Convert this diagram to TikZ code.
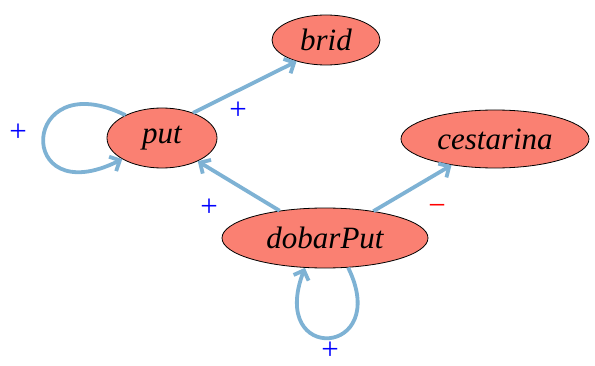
\documentclass[tikz,border=0pt]{standalone}
\usepackage{fontspec}
\setmainfont{Liberation Serif}
\usetikzlibrary{shapes.geometric,arrows.meta}
\definecolor{salmonc}{RGB}{250,128,114}
\definecolor{edgec}{RGB}{126,178,212}
\begin{document}
\begin{tikzpicture}[x=1pt,y=1pt,
  state/.style={ellipse,draw=black,line width=0.8pt,fill=salmonc,inner sep=0pt,
    font=\fontsize{31}{36}\selectfont\itshape},
  edge/.style={draw=edgec,line width=3.8pt,-{Straight Barb[length=8pt,width=16pt]}},
  lbl/.style={font=\fontsize{31}{36}\selectfont,inner sep=0pt}]
\useasboundingbox (0,0) rectangle (595,365);
\node[state,minimum width=108pt,minimum height=50pt] (brid) at (326,325) {brid};
\node[state,minimum width=110pt,minimum height=60pt] (put) at (162,227) {put};
\node[state,minimum width=188pt,minimum height=58pt] (ces) at (495,226) {cestarina};
\node[state,minimum width=206pt,minimum height=60pt] (dob) at (325,127) {dobarPut};
\draw[edge] (put.39) -- (brid.216);
\draw[edge] (put.148) .. controls (20,302) and (14,152) .. (put.208);
\draw[edge] (dob.149) -- (put.327);
\draw[edge] (dob.29) -- (ces.211);
\draw[edge] (dob.308) .. controls (392,8) and (268,0) .. (dob.236);
\node[lbl,text=blue] (l1) at (238,254) {+};
\node[lbl,text=blue] (l2) at (18,232) {+};
\node[lbl,text=blue] (l3) at (209,157) {+};
\node[lbl,text=red] (l4) at (437,155) {\textminus};
\node[lbl,text=blue] (l5) at (330,14) {+};
\end{tikzpicture}
\end{document}
